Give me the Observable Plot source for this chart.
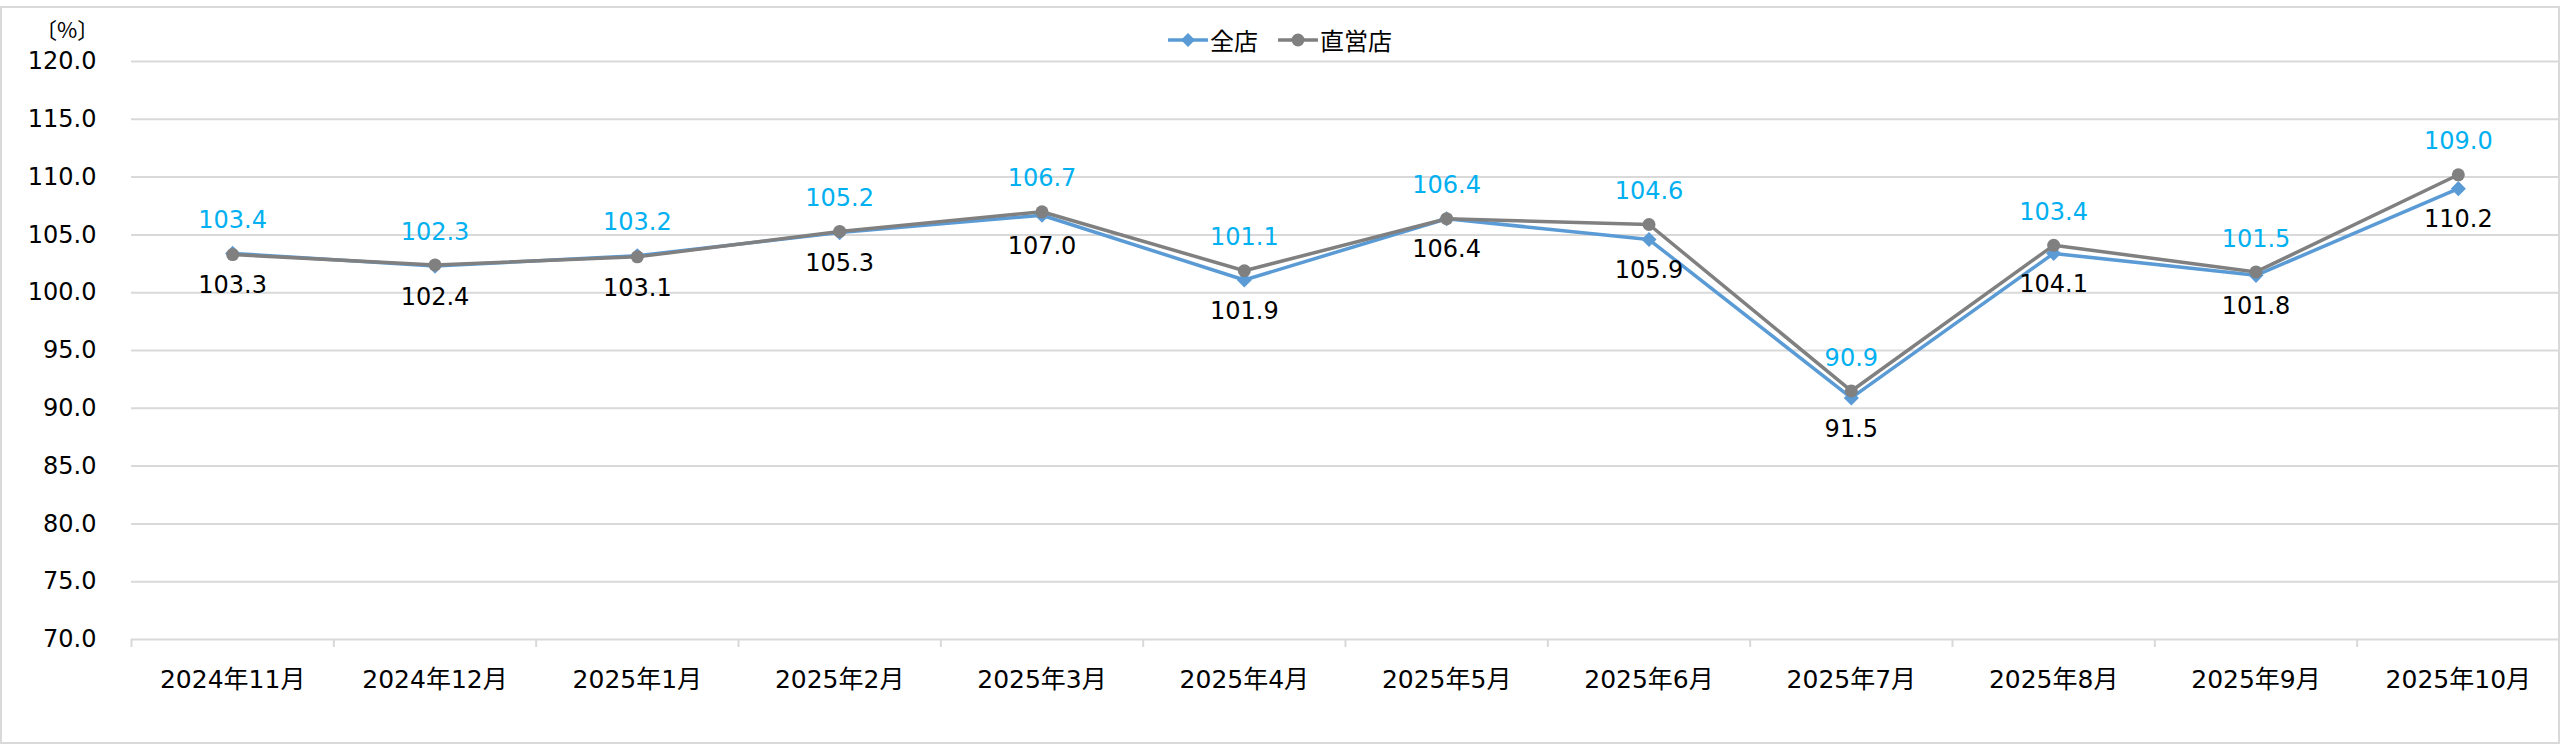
<!DOCTYPE html>
<html>
<head>
<meta charset="utf-8">
<script src="https://cdn.jsdelivr.net/npm/d3@7"></script>
<script src="https://cdn.jsdelivr.net/npm/@observablehq/plot@0.6"></script>
<style>
  body { margin: 0; background: #fff; }
  #wrap { position: relative; width: 2560px; height: 744px; font-family: "DejaVu Sans", "Noto Sans CJK JP", sans-serif; color: #000; }
  #frame { position: absolute; left: 0; top: 6px; width: 2560px; height: 738px; box-sizing: border-box; border: 2px solid #d9d9d9; }
  #chart { position: absolute; left: 0; top: 0; }
  #unit { position: absolute; left: 35px; top: 14px; font-size: 22px; line-height: 28px; font-family: "Noto Sans CJK JP", "DejaVu Sans", sans-serif; }
  #legend { position: absolute; left: 0; top: 26px; width: 2560px; height: 28px; display: flex; justify-content: center; align-items: center; font-size: 24px; line-height: 28px; }
  #legend .item { display: flex; align-items: center; margin: 0 10px; }
  #legend svg { margin-right: 2px; }
  #legend span { font-family: "Noto Sans CJK JP", sans-serif; }
</style>
</head>
<body>
<div id="wrap">
  <div id="frame"></div>
  <div id="chart"></div>
  <div id="unit">〔%〕</div>
  <div id="legend"></div>
</div>
<script>
const months = ["2024年11月","2024年12月","2025年1月","2025年2月","2025年3月","2025年4月","2025年5月","2025年6月","2025年7月","2025年8月","2025年9月","2025年10月"];
const allStores = [103.4, 102.3, 103.2, 105.2, 106.7, 101.1, 106.4, 104.6, 90.9, 103.4, 101.5, 109.0];
const directStores = [103.3, 102.4, 103.1, 105.3, 107.0, 101.9, 106.4, 105.9, 91.5, 104.1, 101.8, 110.2];
const yTicks = [70, 75, 80, 85, 90, 95, 100, 105, 110, 115, 120];
const seriesNames = ["全店", "直営店"];
const seriesColors = ["#5B9BD5", "#808080"];
const labelColors = ["#00B0F0", "#000000"];

const rows = months.map((m, i) => ({i, month: m, a: allStores[i], b: directStores[i]}));
const bounds = d3.range(months.length + 1).map(i => i - 0.5);

const chart = Plot.plot({
  width: 2560,
  height: 744,
  marginTop: 61,
  marginBottom: 105,
  marginLeft: 131,
  marginRight: 1,
  style: {fontFamily: '"DejaVu Sans", "Noto Sans CJK JP", sans-serif', fontSize: "24px", background: "transparent", color: "#000", overflow: "visible"},
  x: {type: "linear", domain: [-0.5, months.length - 0.5], axis: null},
  y: {domain: [70, 120], axis: null},
  marks: [
    Plot.ruleY(yTicks, {stroke: "#d9d9d9", strokeWidth: 2}),
    Plot.axisY({ticks: yTicks, tickSize: 0, tickPadding: 35, tickFormat: d => d.toFixed(1), fontSize: 24, label: null}),
    Plot.axisX({ticks: bounds, tickSize: 8, tickFormat: () => "", stroke: "#d9d9d9", strokeWidth: 2, strokeOpacity: 1, label: null}),
    Plot.axisX({ticks: d3.range(months.length), tickSize: 0, tickPadding: 31, tickFormat: i => months[i], fontSize: 25, label: null}),
    Plot.line(rows, {x: "i", y: "a", stroke: seriesColors[0], strokeWidth: 3.5}),
    Plot.dot(rows, {x: "i", y: "a", symbol: "diamond2", r: 6.8, fill: seriesColors[0]}),
    Plot.line(rows, {x: "i", y: "b", stroke: seriesColors[1], strokeWidth: 3.5}),
    Plot.dot(rows, {x: "i", y: "b", symbol: "circle", r: 6.5, fill: seriesColors[1]}),
    Plot.text(rows, {x: "i", y: d => Math.max(d.a, d.b), text: d => d.a.toFixed(1), dy: -33, fill: labelColors[0], fontSize: 24}),
    Plot.text(rows, {x: "i", y: d => Math.min(d.a, d.b), text: d => d.b.toFixed(1), dy: 31, fill: labelColors[1], fontSize: 24})
  ]
});
document.getElementById("chart").appendChild(chart);

// Legend
const legend = document.getElementById("legend");
seriesNames.forEach((name, k) => {
  const item = document.createElement("div");
  item.className = "item";
  const marker = k === 0
    ? `<path d="M20,1 L27,8 L20,15 L13,8 Z" fill="${seriesColors[k]}"/>`
    : `<circle cx="20" cy="8" r="6.5" fill="${seriesColors[k]}"/>`;
  item.innerHTML = `<svg width="40" height="16" viewBox="0 0 40 16"><line x1="1" y1="8" x2="39" y2="8" stroke="${seriesColors[k]}" stroke-width="3.5" stroke-linecap="round"/>${marker}</svg><span>${name}</span>`;
  legend.appendChild(item);
});
</script>
</body>
</html>
